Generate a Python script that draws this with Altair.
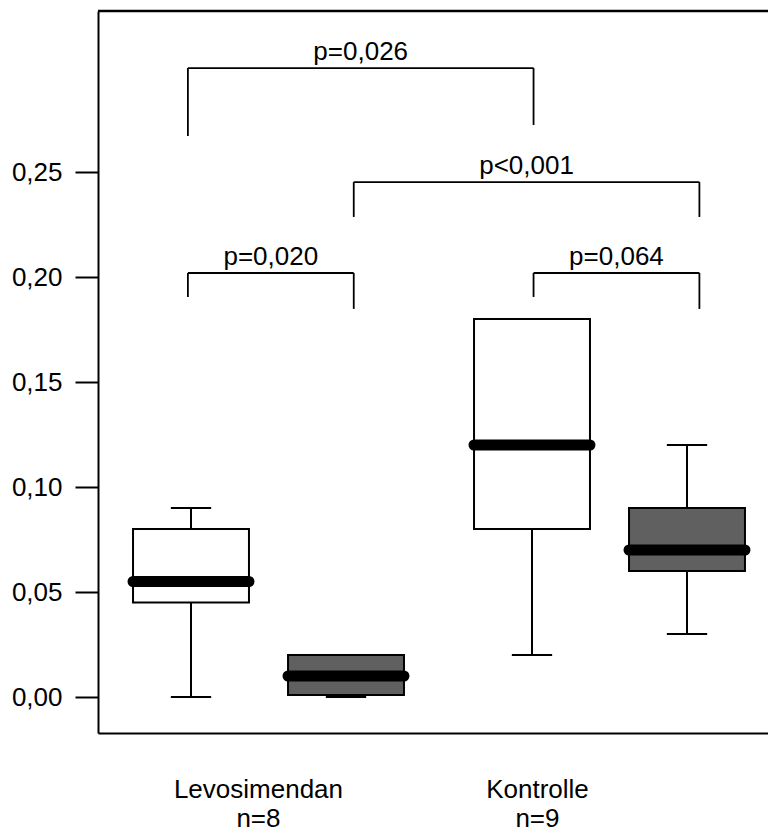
import altair as alt
import pandas as pd

# ---------------- data ----------------
groups = ["Levosimendan", "Levosimendan", "Kontrolle", "Kontrolle"]
phases = ["Zeitpunkt 1", "Zeitpunkt 2", "Zeitpunkt 1", "Zeitpunkt 2"]
v_min = [0.000, 0.000, 0.020, 0.030]
v_q1 = [0.045, 0.001, 0.080, 0.060]
v_med = [0.055, 0.010, 0.120, 0.070]
v_q3 = [0.080, 0.020, 0.180, 0.090]
v_max = [0.090, 0.020, 0.180, 0.120]

categories = ["Levosimendan", "Kontrolle"]
n_per_group = [8, 9]

p_labels = ["p=0,026", "p<0,001", "p=0,020", "p=0,064"]
p_from = [0, 1, 0, 2]          # index of the left box
p_to = [2, 3, 1, 3]            # index of the right box
p_top = [0.2995, 0.2452, 0.2019, 0.2019]
p_left_end = [0.2671, 0.2286, 0.1905, 0.1905]
p_right_end = [0.2724, 0.2286, 0.1848, 0.1848]

y_ticks = [0.00, 0.05, 0.10, 0.15, 0.20, 0.25]

# ---------------- layout ----------------
slot = [1.0, 2.0, 3.2, 4.2]          # box centres on the x scale
leg = [0.98, 2.05, 3.21, 4.28]       # bracket leg positions
label_slot = [1.432, 3.232]          # category label positions
BOX_HALF = 0.374
CAP_HALF = 0.13
W, H = 670, 722
X_DOM = [0.4, 0.4 + W / 155.0]
Y_DOM = [-36 / 2100.0, 686 / 2100.0]
FONT = "Liberation Sans"
FS = 26
GRAY = "#606060"

boxes = pd.DataFrame({
    "group": groups, "phase": phases,
    "vmin": v_min, "q1": v_q1, "med": v_med, "q3": v_q3, "vmax": v_max,
    "x": slot,
    "xl": [s - BOX_HALF for s in slot], "xr": [s + BOX_HALF for s in slot],
    "cl": [s - CAP_HALF for s in slot], "cr": [s + CAP_HALF for s in slot],
})

seg_rows = []
txt_rows = []
for lab, a, b, top, le, re in zip(p_labels, p_from, p_to, p_top, p_left_end, p_right_end):
    xa, xb = leg[a], leg[b]
    seg_rows.append({"sx": xa, "sx2": xb, "sy": top, "sy2": top})
    seg_rows.append({"sx": xa, "sx2": xa, "sy": top, "sy2": le})
    seg_rows.append({"sx": xb, "sx2": xb, "sy": top, "sy2": re})
    txt_rows.append({"label": lab, "tx": (xa + xb) / 2, "ty": top})
segs = pd.DataFrame(seg_rows)
txts = pd.DataFrame(txt_rows)

label_expr = "datum.value < 2.3 ? {} : {}".format(
    "['%s', 'n=%d']" % (categories[0], n_per_group[0]),
    "['%s', 'n=%d']" % (categories[1], n_per_group[1]),
)

xscale = alt.Scale(domain=X_DOM, nice=False, zero=False)
yscale = alt.Scale(domain=Y_DOM, nice=False, zero=False)

x_axis = alt.Axis(
    values=label_slot, labelExpr=label_expr, ticks=False, tickSize=0,
    domainColor="black", domainWidth=2, grid=False, title=None,
    labelFont=FONT, labelFontSize=FS, labelColor="black", labelPadding=43,
    labelLineHeight=29, labelOverlap=False, labelFlush=False, labelBaseline="top",
)
y_axis = alt.Axis(
    values=y_ticks, format=".2f", labelExpr="replace(datum.label, '.', ',')",
    tickSize=23, tickWidth=2, tickColor="black", domainColor="black", domainWidth=2,
    grid=False, title=None, labelFont=FONT, labelFontSize=FS, labelColor="black",
    labelPadding=13, labelOverlap=False, labelFlush=False,
)


def X(field):
    return alt.X(field, type="quantitative", scale=xscale, axis=x_axis)


def Y(field):
    return alt.Y(field, type="quantitative", scale=yscale, axis=y_axis)


base = alt.Chart(boxes)

whisk_lo = base.mark_rule(color="black", strokeWidth=2).encode(x=X("x"), y=Y("vmin"), y2="q1")
whisk_hi = base.mark_rule(color="black", strokeWidth=2).encode(x=X("x"), y=Y("q3"), y2="vmax")
cap_lo = base.mark_rule(color="black", strokeWidth=2).encode(x=X("cl"), x2="cr", y=Y("vmin"))
cap_hi = base.mark_rule(color="black", strokeWidth=2).encode(x=X("cl"), x2="cr", y=Y("vmax"))
box = base.mark_rect(stroke="black", strokeWidth=2).encode(
    x=X("xl"), x2="xr", y=Y("q1"), y2="q3",
    color=alt.Color("phase:N", scale=alt.Scale(domain=["Zeitpunkt 1", "Zeitpunkt 2"],
                                               range=["white", GRAY]), legend=None),
)
median = base.mark_rule(color="black", strokeWidth=11, strokeCap="round").encode(
    x=X("xl"), x2="xr", y=Y("med"))

brackets = alt.Chart(segs).mark_rule(color="black", strokeWidth=1.8).encode(
    x=X("sx"), x2="sx2", y=Y("sy"), y2="sy2")
ptext = alt.Chart(txts).mark_text(
    font=FONT, fontSize=FS, color="black", baseline="alphabetic", align="center", dy=-8
).encode(x=X("tx"), y=Y("ty"), text="label:N")

top_line = alt.Chart(pd.DataFrame({"k": [0]})).mark_rule(color="black", strokeWidth=2.5).encode(
    x=alt.value(0), x2=alt.value(W), y=alt.value(0))

chart = alt.layer(
    whisk_lo, whisk_hi, cap_lo, cap_hi, box, median, brackets, ptext, top_line
).properties(
    width=W, height=H,
    autosize=alt.AutoSizeParams(type="none"),
    padding={"left": 98, "top": 11, "right": 0, "bottom": 98},
    background="white",
).configure_view(stroke=None)

chart.save("out.html", embed_options={"renderer": "svg", "actions": False})
